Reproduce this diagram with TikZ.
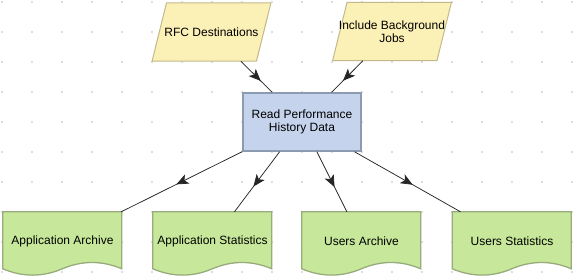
\documentclass[tikz,border=0pt]{standalone}
\usepackage{fontspec}
\setmainfont{Liberation Sans}
\usetikzlibrary{arrows.meta,decorations.markings,calc}
\definecolor{ioFill}{HTML}{FBF0B6}
\definecolor{ioLine}{HTML}{C2B98A}
\definecolor{procFill}{HTML}{C5D3EC}
\definecolor{procLine}{HTML}{8D9BB0}
\definecolor{docFill}{HTML}{C7E89A}
\definecolor{docLine}{HTML}{98AB7C}
\definecolor{dotGray}{HTML}{D0D0D0}
\definecolor{edgeCol}{HTML}{262626}
\pgfdeclarelayer{grid}
\pgfdeclarelayer{background}
\pgfsetlayers{grid,background,main}
\newcommand\docoutline[1]{%
  \begin{scope}[shift={(#1.north west)}]
    \draw[docShape] (0,0) -- (119,0) -- (119,57)
      .. controls (99.17,48.6) and (79.33,48.6) .. (59.5,57)
      .. controls (39.67,65.4) and (19.83,65.4) .. (0,57) -- cycle;
  \end{scope}}
\newcommand\iooutline[1]{%
  \draw[ioShape] (#1.south west) -- ([xshift=14.5pt]#1.north west)
    -- (#1.north east) -- ([xshift=-14.5pt]#1.south east) -- cycle;}
\begin{document}
\begin{tikzpicture}[x=1pt,y=-1pt,
  box/.style={rectangle, inner sep=0pt, align=center,
    font=\fontsize{12pt}{13.5pt}\selectfont},
  ioNode/.style={box, minimum width=118.5pt, minimum height=58pt},
  procNode/.style={box, minimum width=118pt, minimum height=58pt,
    fill=procFill, draw=procLine, line width=1.5pt},
  docNode/.style={box, minimum width=119pt, minimum height=58pt},
  ioShape/.style={fill=ioFill, draw=ioLine, line width=1pt, line join=miter},
  docShape/.style={fill=docFill, draw=docLine, line width=1.3pt},
  flow/.style={draw=edgeCol, line width=0.75pt, postaction={decorate},
    decoration={markings, mark=at position 0.5 with
      {\arrow[xshift=6pt]{Stealth[length=12pt,width=10pt,inset=3pt]}}}}
]
\useasboundingbox (0,0) rectangle (573,278);
\begin{pgfonlayer}{grid}
  \foreach \i in {0,...,19}
    \foreach \j in {0,...,9}
      \fill[dotGray] (2+30*\i, 2+30*\j) circle (1.1pt);
\end{pgfonlayer}

\node[ioNode] (rfc) at (211.5,32) {RFC Destinations};
\node[ioNode] (inc) at (392,31.5) {Include Background\\Jobs};
\node[procNode] (read) at (302,122) {Read Performance\\History Data};
\node[docNode] (appArch) at (62.5,241) {Application Archive};
\node[docNode] (appStat) at (212.5,241) {Application Statistics};
\node[docNode] (usrArch) at (361.5,241) {Users Archive};
\node[docNode] (usrStat) at (512,241) {Users Statistics};

\begin{pgfonlayer}{background}
  \iooutline{rfc}
  \iooutline{inc}
  \docoutline{appArch}
  \docoutline{appStat}
  \docoutline{usrArch}
  \docoutline{usrStat}
\end{pgfonlayer}

\draw[flow] (rfc) -- (read);
\draw[flow] (inc) -- (read);
\draw[flow] (read) -- (appArch);
\draw[flow] (read) -- (appStat);
\draw[flow] (read) -- (usrArch);
\draw[flow] (read) -- (usrStat);
\end{tikzpicture}
\end{document}
